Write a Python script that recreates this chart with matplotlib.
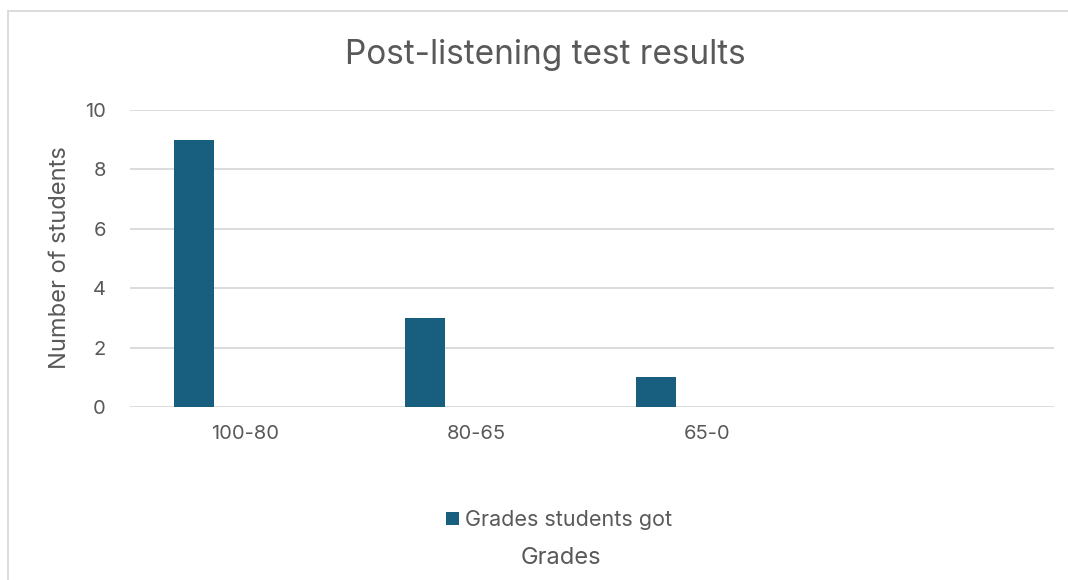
import numpy as np
import matplotlib.pyplot as plt
from matplotlib.lines import Line2D

# grade bands and how many students landed in each
grade_bands = ['100-80', '80-65', '65-0', '']
students = [9, 3, 1, 0]
series_name = 'Grades students got'

bar_color = '#175E7F'
grid_color = '#D9D9D9'
text_color = '#595959'

plt.rcParams['font.family'] = ['Inter', 'DejaVu Sans']

fig = plt.figure(figsize=(10.68, 5.8), dpi=100)
W, H = 1068, 580
ax = fig.add_axes([129.5 / W, 173 / H, 924 / W, 297 / H])

x = np.arange(len(grade_bands))
# first slot of a clustered group, so the bar sits left of the label
ax.bar(x - 0.221, students, width=0.176, color=bar_color, label=series_name, zorder=3)

ax.set_xlim(-0.5, len(grade_bands) - 0.5)
ax.set_ylim(0, 10)
ax.set_yticks(range(0, 11, 2))
ax.set_xticks(x)
ax.set_xticklabels(grade_bands)
ax.tick_params(axis='both', length=0, labelsize=14.5, colors=text_color)
ax.tick_params(axis='x', pad=13)
ax.tick_params(axis='y', pad=17)
for lbl in ax.get_yticklabels():
    lbl.set_horizontalalignment('right')
ax.yaxis.grid(True, color=grid_color, linewidth=1.3, zorder=0)
for s in ax.spines.values():
    s.set_visible(False)

fig.text(545 / W, 1 - 55 / H, 'Post-listening test results', ha='center', va='center',
         fontsize=24, color=text_color)
fig.text(60 / W, 1 - 258 / H, 'Number of students', ha='center', va='center',
         rotation=90, fontsize=17, color=text_color)
fig.text(561 / W, 1 - 558 / H, 'Grades', ha='center', va='center',
         fontsize=17, color=text_color)

handles, labels = ax.get_legend_handles_labels()
fig.legend(handles, labels, loc='center', bbox_to_anchor=(559 / W, 1 - 520 / H),
           frameon=False, fontsize=15.5, labelcolor=text_color, handlelength=0.6,
           handleheight=0.6, handletextpad=0.3)

# chart area border
fig.add_artist(Line2D([8 / W, 1], [1 - 11 / H, 1 - 11 / H], color=grid_color, linewidth=1.3))
fig.add_artist(Line2D([8 / W, 8 / W], [0, 1 - 11 / H], color=grid_color, linewidth=1.3))

fig.savefig('out.png', dpi=100, facecolor='white')
